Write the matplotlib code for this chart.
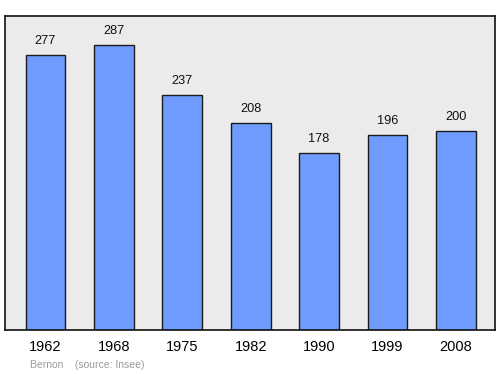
import matplotlib
matplotlib.use("Agg")
import matplotlib.pyplot as plt

years = ["1962", "1968", "1975", "1982", "1990", "1999", "2008"]
population = [277, 287, 237, 208, 178, 196, 200]
source_text = "Bernon    (source: Insee)"

plt.rcParams['font.family'] = ['Liberation Sans', 'DejaVu Sans']

fig = plt.figure(figsize=(5, 3.74), dpi=100)
ax = fig.add_axes([0.01, 1 - 330/374, 0.98, (330 - 16)/374])
ax.set_facecolor("#ebebeb")
x = list(range(len(years)))
ax.bar(x, population, width=0.58, color="#6f9bff", edgecolor="#1a1a1a", linewidth=1.0)
for xi, v in zip(x, population):
    ax.text(xi, v + 8, str(v), ha="center", va="bottom", fontsize=9.2, color="#111111")
ax.set_xlim(-0.59, 6.57)
ax.set_ylim(0, 316)
ax.set_yticks([])
ax.set_xticks(x)
ax.set_xticklabels(years, fontsize=10.5)
ax.tick_params(axis="x", length=0, pad=7.5)
for s in ax.spines.values():
    s.set_linewidth(1.2)
    s.set_color("#111111")
fig.text(30/500, 1 - 365/374, source_text, fontsize=7.5, color="#999999", ha="left", va="center")
fig.savefig("out.png", dpi=100)
